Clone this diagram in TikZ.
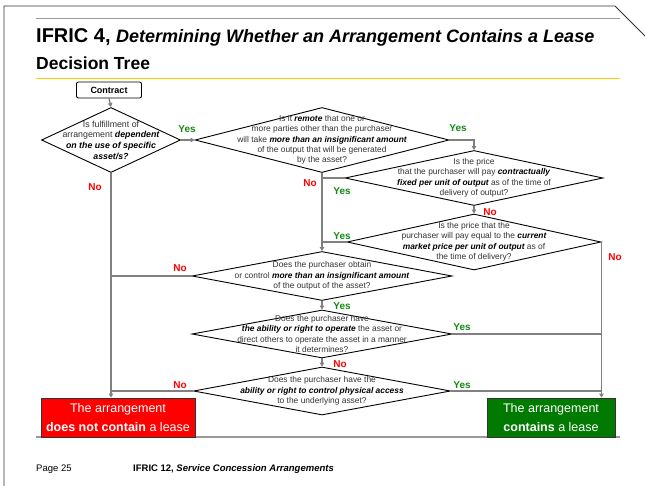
\documentclass[tikz,border=0pt]{standalone}
\usepackage{fontspec}
\setmainfont{Liberation Sans}
\usetikzlibrary{shapes.geometric,arrows.meta}
\definecolor{conn}{HTML}{808080}
\definecolor{yesg}{HTML}{138A13}
\definecolor{nor}{HTML}{FF0000}
\definecolor{dtext}{HTML}{333333}
\definecolor{gold}{HTML}{FFCC00}
\definecolor{rulegrey}{HTML}{999999}
\definecolor{boxred}{HTML}{FF0000}
\definecolor{boxgreen}{HTML}{007A00}
\newcommand\bix[1]{{\color{black}\bfseries\itshape #1}}
\begin{document}
\begin{tikzpicture}[x=1pt,y=-1pt,
  dia/.style={draw=black,line width=0.9pt,shape=diamond,inner sep=0pt,fill=white},
  dtxt/.style={align=center,font=\fontsize{8.4}{10.4}\selectfont,text=dtext,inner sep=0pt},
  arr/.style={draw=conn,line width=1.2pt,-{Triangle[width=4.5pt,length=4pt]}},
  ln/.style={draw=conn,line width=1.2pt},
  yes/.style={font=\bfseries\fontsize{10}{12}\selectfont,text=yesg,inner sep=0pt},
  no/.style={font=\bfseries\fontsize{10}{12}\selectfont,text=nor,inner sep=0pt},
  endbox/.style={draw=black!80,line width=0.9pt,text=white,align=center,inner sep=0pt,
    font=\fontsize{12.5}{19}\selectfont},
  ]
\useasboundingbox (0,0) rectangle (645,486);
% frame
\draw[black!80,line width=0.9pt] (4,486) -- (4,6) -- (615,6) -- (645,36);
\draw[rulegrey,line width=1pt] (36,19) -- (620,19);
\draw[gold,line width=1pt] (36,79) -- (620,79);
\node[anchor=west,inner sep=0pt] (title) at (36,37)
  {\fontsize{20}{22}\selectfont\bfseries IFRIC 4, \fontsize{18}{22}\selectfont\itshape Determining Whether an Arrangement Contains a Lease};
\node[anchor=west,inner sep=0pt] (sub) at (36,63)
  {\fontsize{17.5}{19}\selectfont\bfseries Decision Tree};
% bottom rule
\draw[rulegrey,line width=1.5pt] (36,437) -- (620,437);
% nodes
\node[draw=black,line width=0.9pt,rounded corners=2pt,minimum width=65pt,minimum height=16pt,inner sep=0pt,
  font=\bfseries\fontsize{9}{10}\selectfont] (contract) at (109,90) {Contract};
\node[dia,minimum width=139pt,minimum height=65pt] (d1) at (111,140) {};
\node[dia,minimum width=254pt,minimum height=65pt] (d2) at (322,140) {};
\node[dia,minimum width=258pt,minimum height=55pt] (d3) at (474,178) {};
\node[dia,minimum width=254pt,minimum height=56pt] (d4) at (474,242) {};
\node[dia,minimum width=260pt,minimum height=49pt] (d5) at (322,276) {};
\node[dia,minimum width=260pt,minimum height=48pt] (d6) at (322,334) {};
\node[dia,minimum width=257pt,minimum height=48pt] (d7) at (322,391) {};
\node[endbox,fill=boxred,minimum width=154pt,minimum height=39pt] (red) at (118,417.5)
  {The arrangement\\\textbf{does not contain} a lease};
\node[endbox,fill=boxgreen,minimum width=128pt,minimum height=39pt] (green) at (551,417.5)
  {The arrangement\\\textbf{contains} a lease};
% connectors
\draw[arr] (contract.south) -- (d1.north);
\draw[arr] (d1.east) -- (d2.west);
\draw[arr] (d2.east) -| (d3.north);
\draw[arr] (d2.south) -- (d5.north);
\draw[ln] (d3.west) -- (d3.west -| d2.south);
\draw[arr] (d3.south) -- (d4.north);
\draw[ln] (d4.west) -- (d4.west -| d2.south);
\draw[arr] (d4.east) -- (d4.east |- green.north);
\draw[arr] (d1.south) -- (d1.south |- red.north);
\draw[ln] (d5.west) -- (d5.west -| d1.south);
\draw[arr] (d5.south) -- (d6.north);
\draw[ln] (d6.east) -- (d6.east -| d4.east);
\draw[arr] (d6.south) -- (d7.north);
\draw[ln] (d7.west) -- (d7.west -| d1.south);
\draw[ln] (d7.east) -- (d7.east -| d4.east);
% diamond texts
\node[dtxt,font=\fontsize{8.8}{10.7}\selectfont] (t1) at (d1.center)
  {Is fulfillment of\\arrangement \bix{dependent}\\\bix{on the use of specific}\\\bix{asset/s?}};
\node[dtxt] (t2) at (d2.center)
  {Is it \bix{remote} that one or\\more parties other than the purchaser\\will take \bix{more than an insignificant amount}\\of the output that will be generated\\by the asset?};
\node[dtxt] (t3) at (d3.center)
  {Is the price\\that the purchaser will pay \bix{contractually}\\\bix{fixed per unit of output} as of the time of\\delivery of output?};
\node[dtxt] (t4) at (d4.center)
  {Is the price that the\\purchaser will pay equal to the \bix{current}\\\bix{market price per unit of output} as of\\the time of delivery?};
\node[dtxt] (t5) at (d5.center)
  {Does the purchaser obtain\\or control \bix{more than an insignificant amount}\\of the output of the asset?};
\node[dtxt] (t6) at (d6.center)
  {Does the purchaser have\\\bix{the ability or right to operate} the asset or\\direct others to operate the asset in a manner\\it determines?};
\node[dtxt] (t7) at (d7.center)
  {Does the purchaser have the\\\bix{ability or right to control physical access}\\to the underlying asset?};
% labels
\node[yes] (y1) at (187,129) {Yes};
\node[yes] (y2) at (458,128) {Yes};
\node[no] (n1) at (95,187) {No};
\node[no] (n2) at (310,183) {No};
\node[yes] (y3) at (342,191) {Yes};
\node[yes] (y4) at (342,236) {Yes};
\node[no] (n3) at (490,212) {No};
\node[no] (n4) at (615,257) {No};
\node[no] (n5) at (180,268) {No};
\node[yes] (y5) at (342,306) {Yes};
\node[yes] (y6) at (462,327) {Yes};
\node[no] (n6) at (340,364) {No};
\node[no] (n7) at (180,385) {No};
\node[yes] (y7) at (462,385) {Yes};
% footer
\node[anchor=west,inner sep=0pt,font=\fontsize{9.5}{11}\selectfont] (pg) at (36,469) {Page 25};
\node[anchor=west,inner sep=0pt,font=\fontsize{9.5}{11}\selectfont] (ft) at (133,469)
  {\textbf{IFRIC 12,} \textbf{\textit{Service Concession Arrangements}}};
\end{tikzpicture}
\end{document}
